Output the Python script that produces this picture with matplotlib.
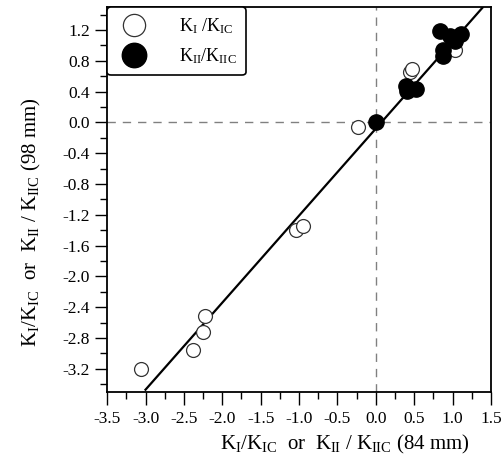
import numpy as np
import matplotlib
matplotlib.use('Agg')
import matplotlib.pyplot as plt
from matplotlib.ticker import MultipleLocator, FixedLocator

plt.rcParams['font.family'] = ['Liberation Serif', 'DejaVu Serif']
plt.rcParams['mathtext.fontset'] = 'custom'
plt.rcParams['mathtext.rm'] = 'Liberation Serif'
plt.rcParams['mathtext.it'] = 'Liberation Serif:italic'

# mode I points (open circles)
k1_x = [-3.06, -2.38, -2.25, -2.23, -1.04, -0.95, -0.23, 0.45, 0.47, 0.99, 1.03]
k1_y = [-3.20, -2.96, -2.72, -2.51, -1.39, -1.34, -0.065, 0.65, 0.69, 0.99, 0.94]

# mode II points (filled circles)
k2_x = [0.0, 0.39, 0.45, 0.52, 0.41, 0.84, 0.97, 1.11, 1.03, 0.87, 0.88]
k2_y = [0.0, 0.47, 0.44, 0.43, 0.41, 1.19, 1.12, 1.15, 1.06, 0.94, 0.86]

# fitted line
fit_x = [-3.0, 1.39]
fit_slope = 1.13
fit_icept = -0.08


def fmt(v):
    v = round(v, 1)
    return '0.0' if v == 0 else f'{v:.1f}'


fig = plt.figure(figsize=(5.03, 4.65), dpi=100)
ax = fig.add_axes([0.213, 0.157, 0.763, 0.828])

ax.axhline(0, color='gray', linestyle=(0, (6, 5)), linewidth=1.0, zorder=1)
ax.axvline(0, color='gray', linestyle=(0, (6, 5)), linewidth=1.0, zorder=1)

fx = np.array(fit_x)
ax.plot(fx, fit_slope * fx + fit_icept, color='black', linewidth=1.6, zorder=2)

ax.plot(k1_x, k1_y, 'o', markerfacecolor='white', markeredgecolor='#333333',
        markeredgewidth=0.9, markersize=10, linestyle='none', zorder=3,
        label=r'$\mathrm{K_{I}\ /K_{IC}}$')
ax.plot(k2_x, k2_y, 'o', color='black', markersize=11, linestyle='none', zorder=4,
        label=r'$\mathrm{K_{II}/K_{IIC}}$')

ax.set_xlim(-3.5, 1.5)
ax.set_ylim(-3.5, 1.5)
ax.xaxis.set_major_locator(MultipleLocator(0.5))
ax.xaxis.set_minor_locator(MultipleLocator(0.25))
ax.yaxis.set_major_locator(FixedLocator(np.round(np.arange(-3.2, 1.3, 0.4), 1)))
ax.yaxis.set_minor_locator(FixedLocator(np.round(np.arange(-3.4, 1.5, 0.4), 1)))
ax.set_xticklabels([fmt(v) for v in ax.get_xticks()])
ax.set_yticklabels([fmt(v) for v in ax.get_yticks()])

ax.tick_params(which='major', direction='out', length=9, width=1.0, labelsize=12.5)
ax.tick_params(axis='x', which='major', pad=5)
ax.tick_params(which='minor', direction='out', length=5, width=1.0)
for s in ax.spines.values():
    s.set_linewidth(1.3)

ax.set_xlabel(r'$\mathrm{K_{I}/K_{IC}}$  or  $\mathrm{K_{II}\ /\ K_{IIC}}$ (84 mm)', fontsize=15)
ax.set_ylabel(r'$\mathrm{K_{I}/K_{IC}}$  or  $\mathrm{K_{II}\ /\ K_{IIC}}$ (98 mm)', fontsize=15)
ax.xaxis.set_label_coords(0.62, -0.107)
ax.yaxis.set_label_coords(-0.168, 0.44)

leg = ax.legend(loc='upper left', bbox_to_anchor=(0.0, 1.0), borderaxespad=0.0,
                fontsize=13, markerscale=1.6, handletextpad=1.5, labelspacing=0.6,
                fancybox=True, framealpha=1.0, edgecolor='black', borderpad=0.5)
leg.get_frame().set_linewidth(1.2)

fig.savefig('out.png', dpi=100)
